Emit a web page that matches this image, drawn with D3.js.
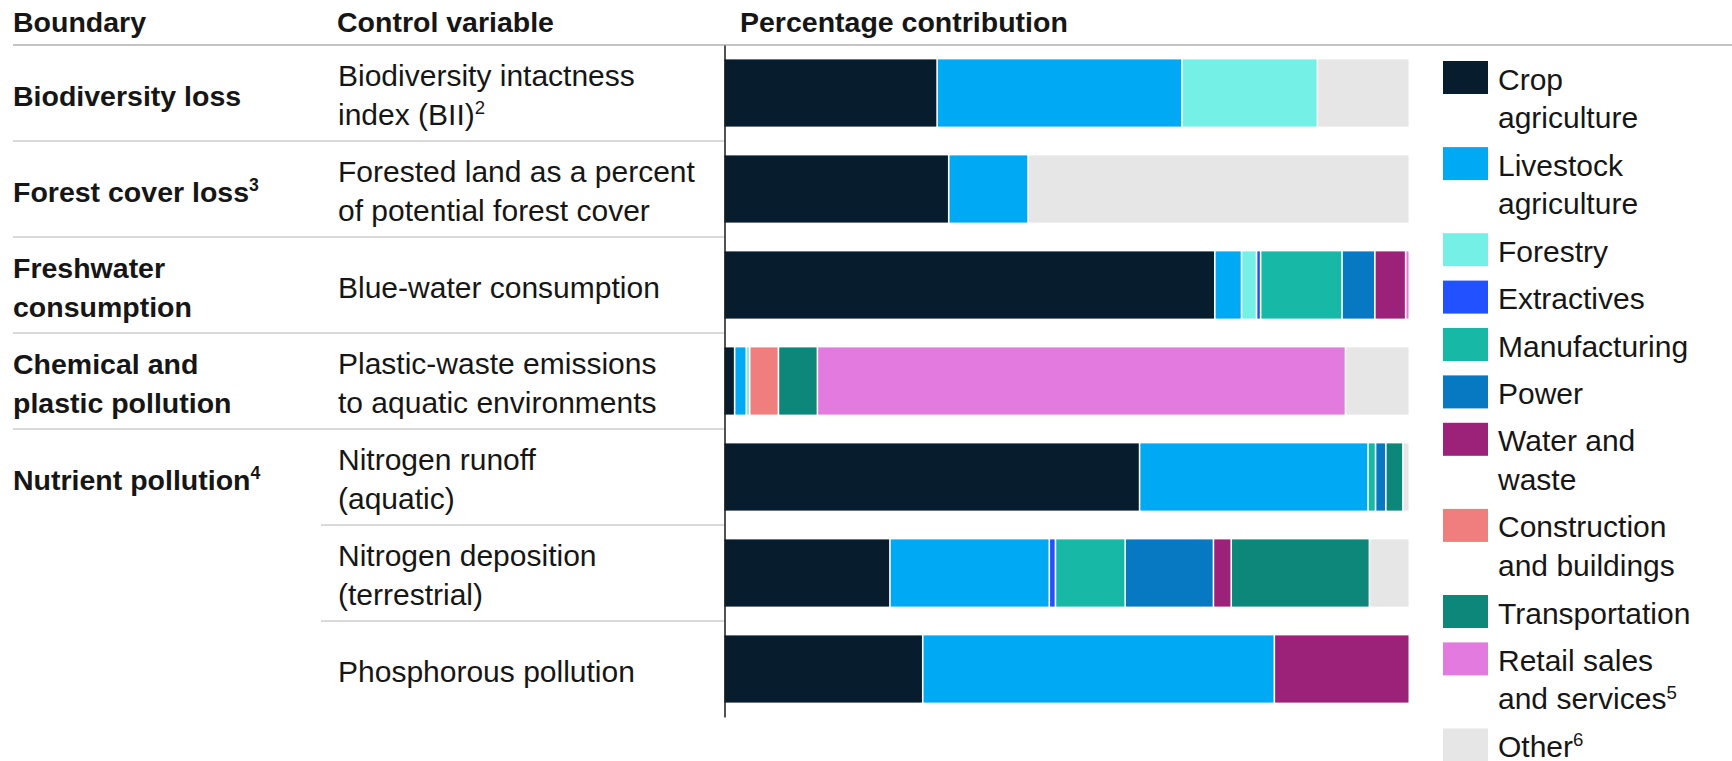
<!DOCTYPE html>
<html>
<head>
<meta charset="utf-8">
<script src="https://cdn.jsdelivr.net/npm/d3@7"></script>
<style>
  html, body { margin: 0; padding: 0; background: #fff; }
  svg { display: block; font-family: "Liberation Sans", Arial, Helvetica, sans-serif; }
</style>
</head>
<body>
<svg id="chart" width="1732" height="761"></svg>
<script>
// Rows: planetary boundary / control variable pairs ("^" marks a superscript)
const rowIds = ["bii", "forest", "water", "plastic", "nrunoff", "ndepo", "phos"];
const boundaryLabels = [
  ["Biodiversity loss"],
  ["Forest cover loss^3"],
  ["Freshwater", "consumption"],
  ["Chemical and", "plastic pollution"],
  ["Nutrient pollution^4"],
  [],
  []
];
const controlLabels = [
  ["Biodiversity intactness", "index (BII)^2"],
  ["Forested land as a percent", "of potential forest cover"],
  ["Blue-water consumption"],
  ["Plastic-waste emissions", "to aquatic environments"],
  ["Nitrogen runoff", "(aquatic)"],
  ["Nitrogen deposition", "(terrestrial)"],
  ["Phosphorous pollution"]
];
const headers = ["Boundary", "Control variable", "Percentage contribution"];

// Sector categories, in stacking order
const categories = ["crop", "livestock", "forestry", "extractives", "manufacturing",
  "power", "water", "construction", "transportation", "retail", "other"];
const legendLabels = [
  ["Crop", "agriculture"],
  ["Livestock", "agriculture"],
  ["Forestry"],
  ["Extractives"],
  ["Manufacturing"],
  ["Power"],
  ["Water and", "waste"],
  ["Construction", "and buildings"],
  ["Transportation"],
  ["Retail sales", "and services^5"],
  ["Other^6"]
];
const colors = ["#071d2e", "#00a9f4", "#74f0e6", "#2251ff", "#17b8a6",
  "#0679c2", "#9b2278", "#f07e7e", "#0e877b", "#e27ae0", "#e6e6e6"];

// Percentage contribution by sector, one value per row
const crop           = [31.2, 32.9, 71.8,  1.6, 60.8, 24.3, 29.1];
const livestock      = [35.8, 11.6,  3.9,  1.7, 33.4, 23.3, 51.4];
const forestry       = [19.8,  0,    2.2,  0.5,  0,    0,    0  ];
const extractives    = [ 0,    0,    0.6,  0,    0,    0.9,  0  ];
const manufacturing  = [ 0,    0,   11.9,  0,    1.1, 10.2,  0  ];
const power          = [ 0,    0,    4.8,  0,    1.5, 12.9,  0  ];
const water          = [ 0,    0,    4.5,  0,    0,    2.6, 19.5];
const construction   = [ 0,    0,    0,    4.2,  0,    0,    0  ];
const transportation = [ 0,    0,    0,    5.7,  2.5, 20.2,  0  ];
const retail         = [ 0,    0,    0.3, 77.2,  0,    0,    0  ];
const other          = [13.2, 55.5,  0,    9.1,  0.7,  5.6,  0  ];

const seriesValues = [crop, livestock, forestry, extractives, manufacturing,
  power, water, construction, transportation, retail, other];

const table = rowIds.map((id, i) => {
  const row = { id };
  categories.forEach((c, k) => { row[c] = seriesValues[k][i]; });
  return row;
});

const svg = d3.select("#chart");
const TEXT = "#161616";
const FS = 30, FS_BOLD = 28.5, LINE = 38.5;

const x = d3.scaleLinear().domain([0, 100]).range([724.5, 1408.5]);
const y = d3.scaleBand().domain(rowIds).range([45, 717])
  .paddingInner(0.3).paddingOuter(0.15);
const color = d3.scaleOrdinal().domain(categories).range(colors);

// write text lines with optional "^" superscripts
function addLines(g, lines, xPos, firstBaseline, size, weight) {
  lines.forEach((ln, j) => {
    const t = g.append("text")
      .attr("x", xPos).attr("y", firstBaseline + j * LINE)
      .attr("font-size", size).attr("font-weight", weight).attr("fill", TEXT);
    const parts = ln.split("^");
    t.append("tspan").text(parts[0]);
    if (parts[1]) {
      t.append("tspan").attr("font-size", size * 0.62).attr("dy", -size * 0.36).text(parts[1]);
    }
  });
}

// header
const head = svg.append("g");
addLines(head, [headers[0]], 13, 32, FS_BOLD, "bold");
addLines(head, [headers[1]], 337, 32, FS_BOLD, "bold");
addLines(head, [headers[2]], 740, 32, FS_BOLD, "bold");
svg.append("line").attr("x1", 13).attr("x2", 1732).attr("y1", 45).attr("y2", 45)
  .attr("stroke", "#c4c4c4").attr("stroke-width", 2);

// row separators
const step = y.step();
rowIds.forEach((id, i) => {
  if (i === rowIds.length - 1) return;
  const yy = 45 + step * (i + 1);
  const x1 = i < 4 ? 13 : 321;
  svg.append("line").attr("x1", x1).attr("x2", x.range()[0]).attr("y1", yy).attr("y2", yy)
    .attr("stroke", "#dadada").attr("stroke-width", 2);
});

// row labels, vertically centred on each row
const labels = svg.append("g");
rowIds.forEach((id, i) => {
  const c = y(id) + y.bandwidth() / 2;
  const b = boundaryLabels[i], v = controlLabels[i];
  if (b.length) addLines(labels, b, 13, c + 12.5 - (b.length - 1) * LINE / 2, FS_BOLD, "bold");
  addLines(labels, v, 338, c + 12.5 - (v.length - 1) * LINE / 2, FS, "normal");
});

// stacked bars
const stacked = d3.stack().keys(categories)(table);
const bars = svg.append("g");
bars.selectAll("g").data(stacked).join("g")
  .attr("fill", d => color(d.key))
  .selectAll("rect")
  .data(d => d.filter(p => p[1] - p[0] > 0).map(p => Object.assign(p, { id: p.data.id })))
  .join("rect")
  .attr("x", d => x(d[0]))
  .attr("y", d => y(d.id))
  .attr("height", y.bandwidth())
  .attr("width", d => {
    const w = x(d[1]) - x(d[0]);
    return d[1] >= 99.95 ? w : Math.max(w - 1.6, 0.9);
  });

// vertical axis line
svg.append("g")
  .attr("transform", `translate(${x.range()[0]},0)`)
  .call(d3.axisLeft(y).tickSize(0).tickFormat(""))
  .call(g => g.select(".domain").attr("stroke", "#1a1a1a").attr("stroke-width", 1.5));

// legend
const legend = svg.append("g");
let legendY = 61;
categories.forEach((c, k) => {
  const lines = legendLabels[k];
  legend.append("rect").attr("x", 1443).attr("y", legendY).attr("width", 45).attr("height", 33)
    .attr("fill", color(c));
  addLines(legend, lines, 1498, legendY + 28.5, FS, "normal");
  legendY += 47.4 + (lines.length - 1) * 38.7;
});
</script>
</body>
</html>
